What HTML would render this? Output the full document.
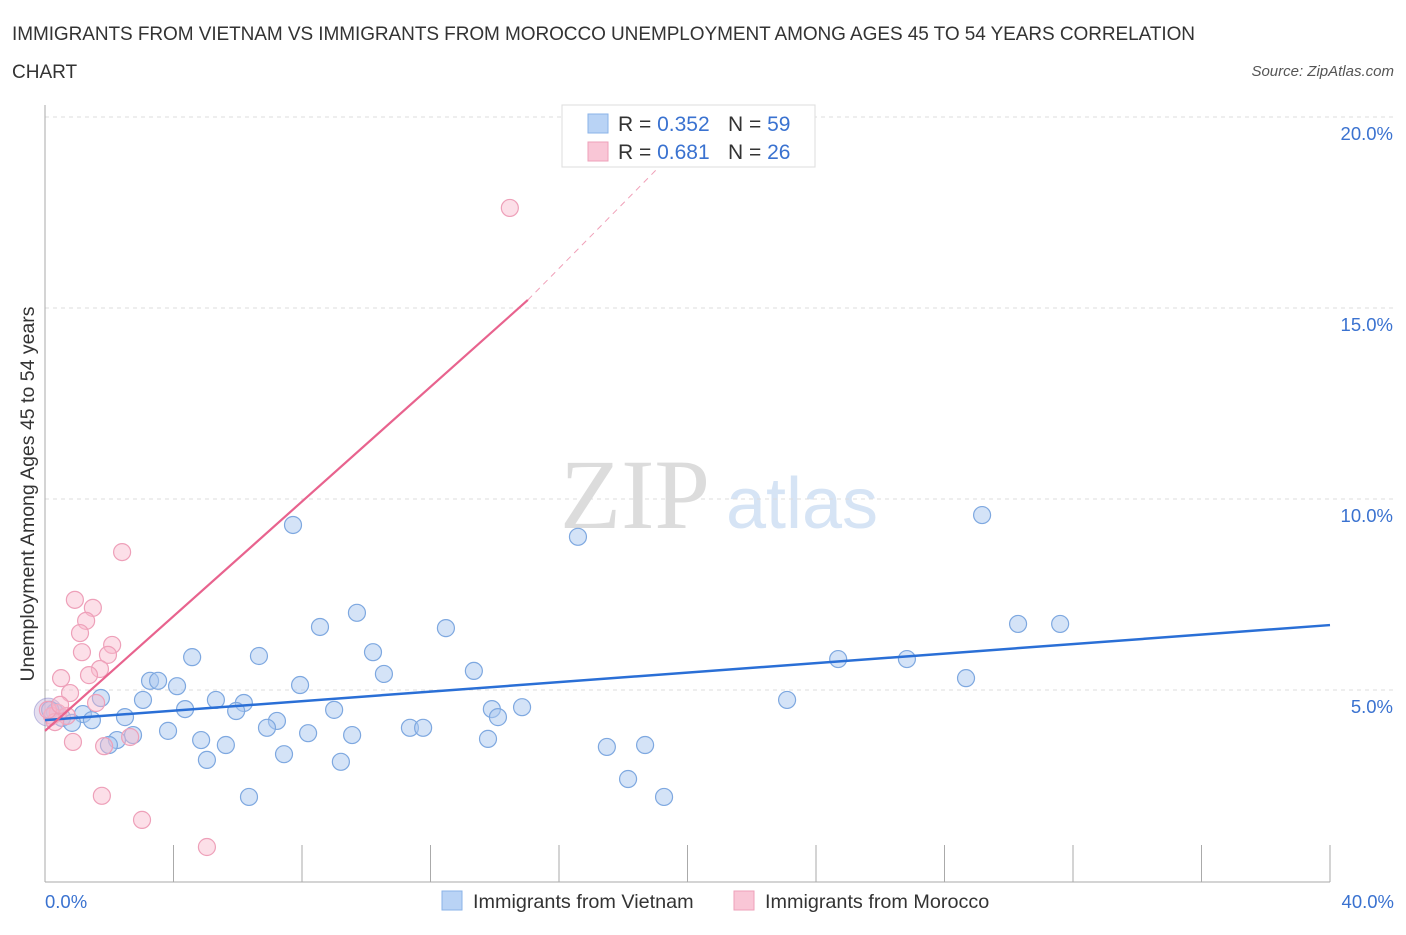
<!DOCTYPE html>
<html><head><meta charset="utf-8"><style>
body{margin:0;background:#fff;font-family:"Liberation Sans",sans-serif;}
</style></head><body>
<svg id="chart" width="1406" height="930" font-family="Liberation Sans, sans-serif">
<text x="12" y="40" font-size="19" fill="#333" textLength="1183">IMMIGRANTS FROM VIETNAM VS IMMIGRANTS FROM MOROCCO UNEMPLOYMENT AMONG AGES 45 TO 54 YEARS CORRELATION</text>
<text x="12" y="78" font-size="19" fill="#333">CHART</text>
<text x="1394" y="76" font-size="15" fill="#555" font-style="italic" text-anchor="end">Source: ZipAtlas.com</text>
<text x="635" y="528" font-size="100" fill="#dcdcdc" style="font-family:'Liberation Serif',serif" text-anchor="middle">ZIP</text>
<text x="802" y="528" font-size="72" fill="#d6e4f5" text-anchor="middle">atlas</text>
<text transform="translate(34,494) rotate(-90)" font-size="19.5" fill="#333" text-anchor="middle">Unemployment Among Ages 45 to 54 years</text>
<g id="grid"></g><g id="marks"></g>
<g>
<rect x="562" y="105" width="253" height="62" fill="#fff" stroke="#ddd"/>
<rect x="588" y="114" width="20" height="19" fill="#b9d3f5" stroke="#8ab3e8"/>
<rect x="588" y="142" width="20" height="19" fill="#f9c6d6" stroke="#eea0b9"/>
<text x="618" y="131" font-size="21" fill="#333">R = <tspan fill="#3a72d0">0.352</tspan></text>
<text x="728" y="131" font-size="21" fill="#333">N = <tspan fill="#3a72d0">59</tspan></text>
<text x="618" y="159" font-size="21" fill="#333">R = <tspan fill="#3a72d0"> 0.681</tspan></text>
<text x="728" y="159" font-size="21" fill="#333">N = <tspan fill="#3a72d0">26</tspan></text>
</g>
<g>
<rect x="442" y="891" width="20" height="19" fill="#b9d3f5" stroke="#8ab3e8"/>
<text x="473" y="908" font-size="19.8" fill="#333">Immigrants from Vietnam</text>
<rect x="734" y="891" width="20" height="19" fill="#f9c6d6" stroke="#eea0b9"/>
<text x="765" y="908" font-size="19.8" fill="#333">Immigrants from Morocco</text>
</g>
</svg>
<script>
const yTicks=[5,10,15,20];
const yTickLabels=["5.0%","10.0%","15.0%","20.0%"];
const xTicks=[0,4,8,12,16,20,24,28,32,36,40];
const xEndLabels=["0.0%","40.0%"];
const vietX=[7.72,16.59,29.17,9.71,8.56,12.48,30.29,31.60,4.58,6.66,10.21,13.35,24.69,26.83,28.67,3.27,3.52,4.11,7.94,10.55,1.74,3.05,5.32,6.19,4.36,5.95,9.00,13.91,14.85,23.10,1.18,2.49,1.46,7.22,6.91,0.53,0.84,3.83,8.19,9.56,11.36,11.77,13.79,14.10,2.74,2.24,1.99,4.86,5.63,17.49,18.68,7.44,5.04,9.21,18.15,6.35,19.27,0.31,0.16];
const vietY=[9.32,9.01,9.58,7.02,6.65,6.62,6.73,6.73,5.86,5.89,5.99,5.50,5.81,5.81,5.31,5.24,5.24,5.10,5.13,5.42,4.79,4.74,4.74,4.66,4.50,4.45,4.48,4.50,4.55,4.74,4.37,4.29,4.21,4.19,4.01,4.27,4.14,3.93,3.87,3.82,4.01,4.01,3.72,4.29,3.82,3.69,3.56,3.69,3.56,3.51,3.56,3.32,3.17,3.12,2.67,2.20,2.20,4.42,4.48];
const morX=[14.47,2.40,0.93,1.49,1.28,1.09,2.09,1.96,1.15,1.71,1.37,0.50,0.78,1.59,0.40,0.22,0.68,0.31,2.65,1.84,0.87,1.77,3.02,5.04,0.09,0.47];
const morY=[17.62,8.61,7.36,7.15,6.81,6.49,6.18,5.92,5.99,5.55,5.39,5.31,4.92,4.66,4.40,4.32,4.32,4.16,3.77,3.53,3.64,2.23,1.60,0.89,4.48,4.61];
const vietTrend=[4.21,6.70];
const morTrend=[3.93,15.21,20.3];
const morTrendX=[0,15.03,21.0];
const X0=45,X1=1330,Y0=881,YS=191/5;
const sx=v=>X0+v*(X1-X0)/40, sy=v=>Y0-v*YS;
const NS="http://www.w3.org/2000/svg";
function mk(t,a,p){const e=document.createElementNS(NS,t);for(const k in a)e.setAttribute(k,a[k]);p.appendChild(e);return e;}
const grid=document.getElementById('grid'),marks=document.getElementById('marks');
yTicks.forEach((v,i)=>{
 const l=mk('line',{x1:X0,x2:1394,y1:sy(v),y2:sy(v),stroke:'#ddd','stroke-dasharray':'4,4'},grid);
 
 
 const t=mk('text',{x:1393,y:sy(v)+23,'font-size':18.5,fill:'#3a72d0','text-anchor':'end'},grid);
 t.textContent=yTickLabels[i];
 
 
});
mk('line',{x1:X0,x2:X0,y1:105,y2:882,stroke:'#aaa'},grid);
mk('line',{x1:X0,x2:X1,y1:882,y2:882,stroke:'#aaa'},grid);
xTicks.forEach(v=>{
 const l=mk('line',{x1:sx(v),x2:sx(v),y1:845,y2:882,stroke:'#aaa'},grid);
 
 
});
[[0,'start',45],[40,'end',1394]].forEach((d,i)=>{
 const t=mk('text',{x:d[2],y:908,'font-size':18.5,fill:'#3a72d0','text-anchor':d[1]},grid);
 t.textContent=xEndLabels[i];
 
 
});
mk('circle',{cx:sx(0.1),cy:sy(4.42),r:14,fill:'rgba(180,160,210,0.35)',stroke:'rgba(130,130,200,0.5)'},marks);
vietX.forEach((x,i)=>{
 const c=mk('circle',{cx:sx(x),cy:sy(vietY[i]),r:8.5,fill:'rgba(170,200,240,0.5)',stroke:'#7ea8e0','stroke-width':1.2},marks);
 
 
});
morX.forEach((x,i)=>{
 const c=mk('circle',{cx:sx(x),cy:sy(morY[i]),r:8.5,fill:'rgba(248,185,205,0.45)',stroke:'#eea0b9','stroke-width':1.2},marks);
 
 
});
const bt=mk('line',{x1:sx(0),y1:sy(vietTrend[0]),x2:sx(40),y2:sy(vietTrend[1]),stroke:'#2a6fd6','stroke-width':2.5},marks);


const pt=mk('line',{x1:sx(morTrendX[0]),y1:sy(morTrend[0]),x2:sx(morTrendX[1]),y2:sy(morTrend[1]),stroke:'#e8638e','stroke-width':2.2},marks);


const pd=mk('line',{x1:sx(morTrendX[1]),y1:sy(morTrend[1]),x2:sx(morTrendX[2]),y2:sy(morTrend[2]),stroke:'#f0a0b8','stroke-width':1,'stroke-dasharray':'6,5'},marks);


</script>
</body></html>
